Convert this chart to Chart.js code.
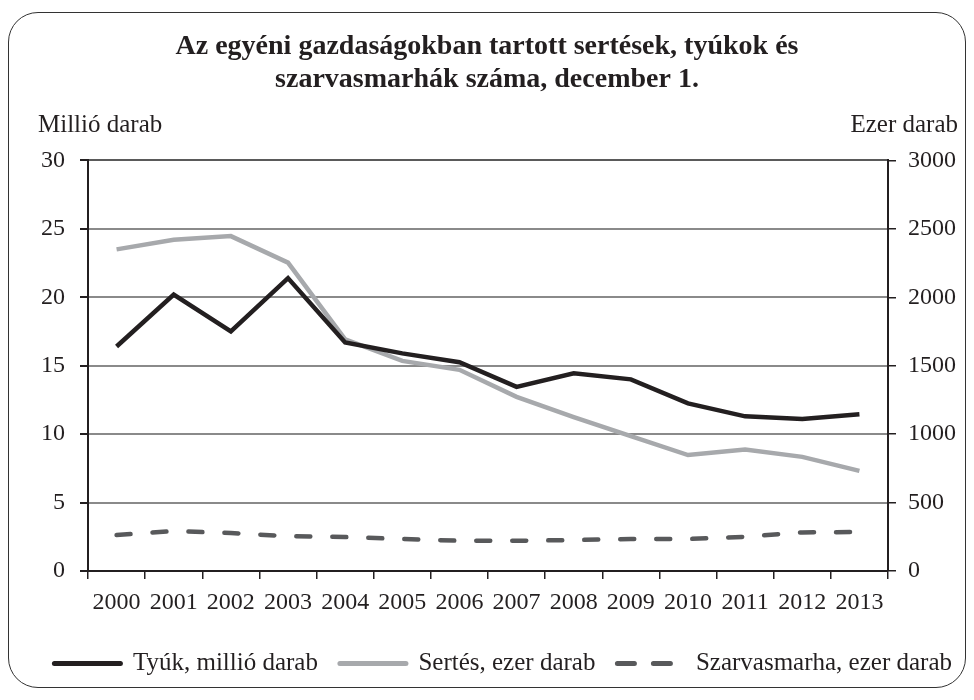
<!DOCTYPE html>
<html>
<head>
<meta charset="utf-8">
<script src="https://cdn.jsdelivr.net/npm/chart.js@4"></script>
<style>
  body { margin: 0; background: #fff; }
  #wrap { position: relative; width: 974px; height: 700px; }
  #frame { position: absolute; left: 8px; top: 12px; width: 956px; height: 674px;
           border: 1.5px solid #333; border-radius: 30px; }
  #chartCanvas { position: absolute; left: 0; top: 0; }
</style>
</head>
<body>
<div id="wrap">
  <div id="frame"></div>
  <canvas id="chartCanvas" width="974" height="700"></canvas>
</div>
<script>
const years = ["2000","2001","2002","2003","2004","2005","2006","2007","2008","2009","2010","2011","2012","2013"];
const tyuk = [16.4, 20.2, 17.5, 21.4, 16.7, 15.9, 15.25, 13.45, 14.45, 14.0, 12.25, 11.3, 11.1, 11.45];
const sertes = [2350, 2420, 2447, 2253, 1693, 1535, 1470, 1272, 1124, 985, 847, 888, 834, 732];
const szarvasmarha = [263, 292, 277, 255, 248, 234, 221, 221, 226, 234, 234, 250, 282, 285];
const leftTicks = [0, 5, 10, 15, 20, 25, 30];
const rightTicks = [0, 500, 1000, 1500, 2000, 2500, 3000];

const FONT = "'Liberation Serif', 'Times New Roman', serif";
const INK = "#231f20";

Chart.defaults.font.family = FONT;
Chart.defaults.color = INK;

// unit labels above the two y axes
const unitLabels = {
    id: "unitLabels",
    afterDraw(c) {
        const { ctx, chartArea } = c;
        ctx.save();
        ctx.font = "25px " + FONT;
        ctx.fillStyle = INK;
        ctx.textBaseline = "middle";
        ctx.textAlign = "left";
        ctx.fillText("Millió darab", chartArea.left - 50, chartArea.top - 35);
        ctx.textAlign = "right";
        ctx.fillText("Ezer darab", chartArea.right + 70, chartArea.top - 35);
        ctx.restore();
    }
};

const chart = new Chart(document.getElementById("chartCanvas"), {
    type: "line",
    data: {
        labels: years,
        datasets: [
            {
                label: "Tyúk, millió darab",
                data: tyuk,
                yAxisID: "y",
                borderColor: INK,
                backgroundColor: INK,
                borderWidth: 4.5,
                pointRadius: 0,
                tension: 0
            },
            {
                label: "Sertés, ezer darab",
                data: sertes,
                yAxisID: "y2",
                borderColor: "#a7a9ac",
                backgroundColor: "#a7a9ac",
                borderWidth: 4.5,
                pointRadius: 0,
                tension: 0
            },
            {
                label: "Szarvasmarha, ezer darab",
                data: szarvasmarha,
                yAxisID: "y2",
                borderColor: "#58595b",
                backgroundColor: "#58595b",
                borderWidth: 4.5,
                borderDash: [14, 22],
                borderCapStyle: "round",
                pointRadius: 0,
                tension: 0
            }
        ]
    },
    options: {
        responsive: false,
        animation: false,
        layout: { padding: { left: 0, right: 0, top: 0, bottom: 14 } },
        plugins: {
            title: {
                display: true,
                text: ["Az egyéni gazdaságokban tartott sertések, tyúkok és", "szarvasmarhák száma, december 1."],
                font: { size: 28, weight: "bold", family: FONT, lineHeight: 1.15 },
                color: INK,
                padding: { top: 31, bottom: 65 }
            },
            legend: {
                position: "bottom",
                align: "end",
                labels: {
                    usePointStyle: true,
                    pointStyle: "line",
                    pointStyleWidth: 66,
                    padding: 22,
                    font: { size: 25, family: FONT },
                    color: INK,
                    generateLabels(c) {
                        return c.data.datasets.map((ds, i) => ({
                            text: ds.label,
                            datasetIndex: i,
                            pointStyle: "line",
                            strokeStyle: ds.borderColor,
                            fillStyle: ds.borderColor,
                            lineWidth: 5,
                            lineCap: "round",
                            lineDash: ds.borderDash ? [17, 19] : [],
                            fontColor: INK
                        }));
                    }
                }
            },
            tooltip: { enabled: false }
        },
        scales: {
            x: {
                offset: true,
                grid: { offset: true, drawOnChartArea: false, tickLength: 8, tickColor: INK, lineWidth: 1.5 },
                border: { color: INK, width: 2 },
                ticks: { font: { size: 24 }, color: INK, maxRotation: 0, autoSkip: false, padding: 9 },
                afterFit(s) { s.height = 58; }
            },
            y: {
                position: "left",
                min: 0, max: 30,
                afterBuildTicks(s) { s.ticks = leftTicks.map(v => ({ value: v })); },
                grid: {
                    color: ctx => ctx.tick && ctx.tick.value === 30 ? "#5a5a5a" : "#8a8a8a",
                    lineWidth: 2, tickLength: 8, tickColor: INK
                },
                border: { color: INK, width: 2 },
                ticks: { font: { size: 24 }, color: INK, padding: 15 },
                afterFit(s) { s.width = 88; }
            },
            y2: {
                position: "right",
                min: 0, max: 3000,
                afterBuildTicks(s) { s.ticks = rightTicks.map(v => ({ value: v })); },
                grid: { drawOnChartArea: false, tickLength: 8, tickColor: INK, lineWidth: 1.5 },
                border: { color: INK, width: 2 },
                ticks: { font: { size: 24 }, color: INK, padding: 12, callback: v => String(v) },
                afterFit(s) { s.width = 86; }
            }
        }
    },
    plugins: [unitLabels]
});
</script>
</body>
</html>
